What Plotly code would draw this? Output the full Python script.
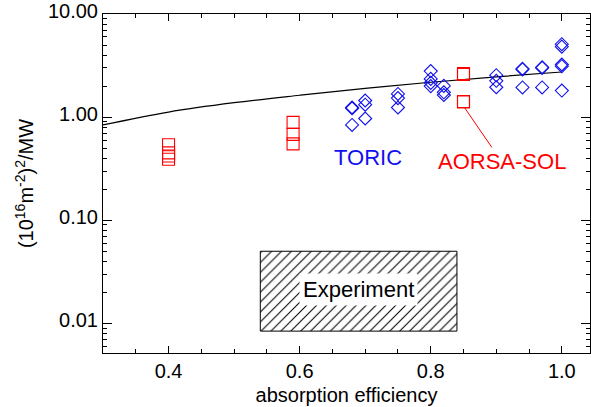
import plotly.graph_objects as go

# Model curve
curve_x = [0.3, 0.4, 0.5, 0.6, 0.7, 0.8, 0.9, 1.0]
curve_y = [0.84, 1.12, 1.38, 1.63, 1.90, 2.18, 2.46, 2.74]

# TORIC (blue diamonds)
toric_x = [0.68, 0.68, 0.68,
           0.70, 0.70, 0.70,
           0.75, 0.75, 0.75,
           0.80, 0.80, 0.80, 0.80,
           0.82, 0.82, 0.82,
           0.90, 0.90, 0.90,
           0.94, 0.94, 0.94,
           0.97, 0.97, 0.97,
           1.00, 1.00, 1.00, 1.00, 1.00]
toric_y = [1.22, 1.24, 0.84,
           1.45, 1.32, 0.97,
           1.68, 1.53, 1.24,
           2.80, 2.35, 2.15, 2.00,
           2.01, 1.74, 1.64,
           2.55, 2.25, 1.95,
           2.90, 2.95, 1.94,
           3.00, 3.05, 1.94,
           4.83, 5.10, 3.24, 3.12, 1.81]

# AORSA-SOL (red squares)
aorsa_x = [0.40, 0.40, 0.40, 0.40,
           0.59, 0.59, 0.59,
           0.85, 0.85, 0.85, 0.85]
aorsa_y = [0.54, 0.45, 0.42, 0.39,
           0.89, 0.68, 0.55,
           2.65, 2.60, 1.42, 1.40]

# Experimental range
exp_x = [0.54, 0.84]
exp_y = [0.0084, 0.05]

FONT = "Liberation Sans, Arial, sans-serif"
BLUE = "#1010f0"
RED = "#ff0000"

fig = go.Figure()

fig.add_trace(go.Scatter(
    x=[exp_x[0], exp_x[1], exp_x[1], exp_x[0], exp_x[0]],
    y=[exp_y[0], exp_y[0], exp_y[1], exp_y[1], exp_y[0]],
    mode="lines", fill="toself",
    line=dict(color="black", width=1),
    fillcolor="white",
    fillpattern=dict(shape="/", size=7, solidity=0.15,
                     fgcolor="black", bgcolor="white", fillmode="replace"),
    hoverinfo="skip", showlegend=False))

fig.add_trace(go.Scatter(
    x=curve_x, y=curve_y, mode="lines",
    line=dict(color="black", width=1.2, shape="spline", smoothing=1.0),
    showlegend=False))

fig.add_trace(go.Scatter(
    x=toric_x, y=toric_y, mode="markers",
    marker=dict(symbol="diamond-open", size=10, color=BLUE,
                line=dict(color=BLUE, width=1.1)),
    showlegend=False))

fig.add_trace(go.Scatter(
    x=aorsa_x, y=aorsa_y, mode="markers",
    marker=dict(symbol="square-open", size=12, color=RED,
                line=dict(color=RED, width=1.1)),
    showlegend=False))

fig.add_annotation(x=0.704, y=-0.39, xref="x", yref="y", text="TORIC",
                   showarrow=False, font=dict(family=FONT, size=22, color=BLUE))

fig.add_annotation(x=0.852, y=0.0885, xref="x", yref="y", text="AORSA-SOL",
                   showarrow=True, arrowhead=0, arrowwidth=1, arrowcolor=RED,
                   axref="x", ayref="y", ax=0.908, ay=-0.43, standoff=0,
                   font=dict(family=FONT, size=22, color=RED))

fig.add_annotation(x=0.69, y=-1.676, xref="x", yref="y", text="Experiment",
                   showarrow=False, bgcolor="white", borderpad=3,
                   font=dict(family=FONT, size=22, color="black"))

fig.update_layout(
    width=591, height=407,
    margin=dict(l=103, r=0, t=7, b=54),
    paper_bgcolor="white", plot_bgcolor="white",
    font=dict(family=FONT, size=20, color="black"),
    showlegend=False,
)

fig.update_xaxes(
    range=[0.3, 1.043], tickmode="linear", tick0=0.4, dtick=0.2, tickformat=".1f",
    ticks="inside", ticklen=7, tickcolor="black", showgrid=False, zeroline=False,
    showline=True, linecolor="black", linewidth=1, mirror="allticks",
    minor=dict(tickmode="linear", tick0=0.3, dtick=0.05, ticks="inside",
               ticklen=4, tickcolor="black", showgrid=False),
    tickfont=dict(family=FONT, size=20),
    title=dict(text="absorption efficiency", font=dict(family=FONT, size=20), standoff=6),
)

fig.update_yaxes(
    type="log", range=[-2.288, 1.0005], tickmode="linear", tick0=0, dtick=1,
    tickformat=".2f", ticklabeloverflow="allow", ticklabelshift=-3,
    ticks="inside", ticklen=9, tickcolor="black", showgrid=False, zeroline=False,
    showline=True, linecolor="black", linewidth=1, mirror="allticks",
    minor=dict(dtick="D1", ticks="inside", ticklen=4, tickcolor="black", showgrid=False),
    tickfont=dict(family=FONT, size=20),
    title=dict(text="(10<sup>16</sup>m<sup>-2</sup>)<sup>2</sup>/MW",
               font=dict(family=FONT, size=20), standoff=8),
)

fig.write_html("out.html")
